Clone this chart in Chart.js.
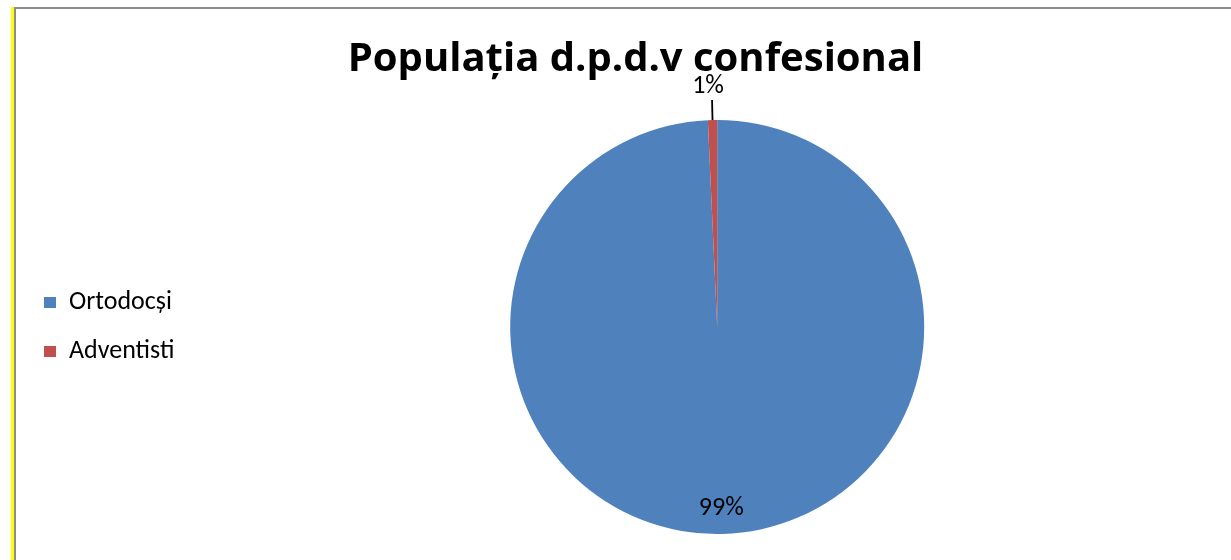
<!DOCTYPE html>
<html lang="ro">
<head>
<meta charset="UTF-8" />
<title>Populația d.p.d.v confesional</title>
<script src="https://cdn.jsdelivr.net/npm/chart.js"></script>
<style>
  html, body {
    margin: 0;
    padding: 0;
    overflow: hidden;
    background: #fff;
    width: 1231px;
    height: 560px;
  }
  .edge { position: absolute; }
  #edge-yellow { left: 11px; top: 7px; width: 3px; bottom: 0; background: #ffff00; }
  #edge-left   { left: 14px; top: 7px; width: 2px; bottom: 0; background: #8c8c8c; }
  #edge-top    { left: 14px; top: 7px; right: 0; height: 2px; background: #8c8c8c; }
  #wrap {
    position: absolute;
    left: 16px;
    top: 9px;
    width: 1240px;
    height: 551px;
  }
</style>
</head>
<body>

<div class="edge" id="edge-yellow"></div>
<div class="edge" id="edge-left"></div>
<div class="edge" id="edge-top"></div>
<div id="wrap"><canvas id="chart-confesional"></canvas></div>

<script>
  // date
  const categories = ['Ortodocși', 'Adventisti'];
  const values = [99.28, 0.72];
  const colors = ['#4f81bd', '#c0504d'];

  const FONT = "Carlito, Lato, 'Open Sans', sans-serif";

  // etichete procentuale pe felii
  const sliceLabels = {
    id: 'sliceLabels',
    afterDatasetsDraw(chart) {
      const ctx = chart.ctx;
      const meta = chart.getDatasetMeta(0);
      const total = values.reduce((a, b) => a + b, 0);
      meta.data.forEach((arc, i) => {
        const p = arc.getProps(['x', 'y', 'startAngle', 'endAngle', 'outerRadius'], true);
        const mid = (p.startAngle + p.endAngle) / 2;
        const share = values[i] / total;
        const txt = Math.round(share * 100) + '%';
        ctx.save();
        ctx.font = '26px ' + FONT;
        ctx.fillStyle = '#000';
        ctx.textAlign = 'center';
        ctx.textBaseline = 'middle';
        if (share > 0.05) {
          const r = p.outerRadius * 0.877;
          ctx.fillText(txt, p.x + Math.cos(mid) * r, p.y + Math.sin(mid) * r);
        } else {
          const x1 = p.x + Math.cos(mid) * p.outerRadius;
          const y1 = p.y + Math.sin(mid) * p.outerRadius;
          const x2 = p.x + Math.cos(mid) * (p.outerRadius + 20);
          const y2 = p.y + Math.sin(mid) * (p.outerRadius + 20);
          ctx.strokeStyle = '#000';
          ctx.lineWidth = 1.8;
          ctx.beginPath();
          ctx.moveTo(x1, y1);
          ctx.lineTo(x2, y2);
          ctx.stroke();
          ctx.fillText(txt, x2 - 4, y2 - 14);
        }
        ctx.restore();
      });
    }
  };

  new Chart(document.getElementById('chart-confesional'), {
    type: 'pie',
    data: {
      labels: categories,
      datasets: [{
        data: values,
        backgroundColor: colors,
        borderWidth: 0
      }]
    },
    options: {
      responsive: true,
      maintainAspectRatio: false,
      animation: false,
      layout: { padding: { left: 5, right: 6, top: 0, bottom: 26 } },
      plugins: {
        title: {
          display: true,
          text: 'Populația d.p.d.v confesional',
          color: '#000',
          font: { family: "'Open Sans', Carlito, sans-serif", size: 40, weight: 'bold', lineHeight: 1.2 },
          padding: { top: 26.5, bottom: 36.5 }
        },
        legend: {
          position: 'left',
          fullSize: false,
          labels: {
            color: '#000',
            boxWidth: 12,
            boxHeight: 11,
            padding: 23,
            font: { family: FONT, size: 26 }
          }
        },
        tooltip: { enabled: false }
      }
    },
    plugins: [sliceLabels]
  });
</script>

</body>
</html>
